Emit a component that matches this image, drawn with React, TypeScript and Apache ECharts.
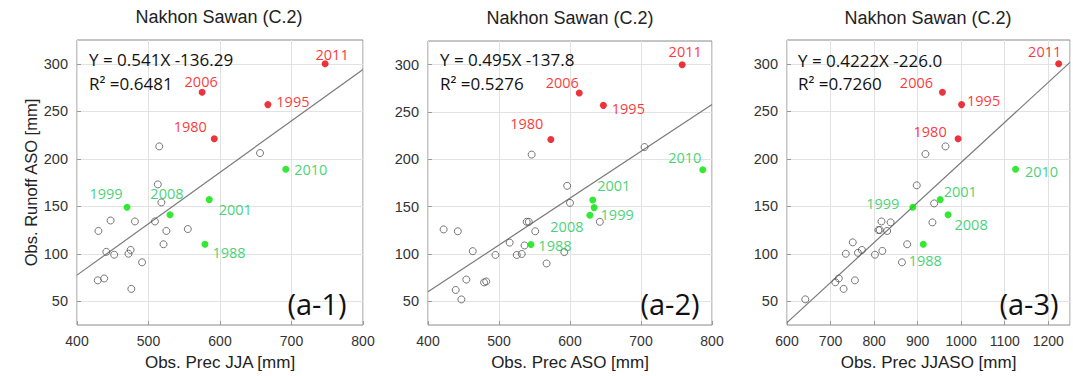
import React, { useEffect, useRef } from "react";
import * as echarts from "echarts";

// ---------- data ----------
const TITLE = "Nakhon Sawan (C.2)";
const Y_NAME = "Obs. Runoff ASO [mm]";
const X_NAMES = ["Obs. Prec JJA [mm]", "Obs. Prec ASO [mm]", "Obs. Prec JJASO [mm]"];
const EQUATIONS = ["Y = 0.541X -136.29", "Y = 0.495X -137.8", "Y = 0.4222X -226.0"];
const R2_TEXT = ["R² =0.6481", "R² =0.5276", "R² =0.7260"];
const PANEL_TAGS = ["(a-1)", "(a-2)", "(a-3)"];
const Y_TICKS = [50, 100, 150, 200, 250, 300];

const RED_YEARS = ["1980", "1995", "2006", "2011"];
const RED_RUNOFF = [221, 257, 270, 300];
const RED_JJA = [592, 667, 575, 747];
const RED_ASO = [573, 647, 613, 758];
const RED_JJASO = [993, 1001, 957, 1224];

const GREEN_YEARS = ["1988", "1999", "2001", "2008", "2010"];
const GREEN_RUNOFF = [110, 149, 157, 141, 189];
const GREEN_JJA = [579, 470, 585, 530, 692];
const GREEN_ASO = [545, 634, 632, 628, 787];
const GREEN_JJASO = [913, 889, 952, 970, 1125];

const HOLLOW_JJA = [515, 656, 513, 518, 447, 481, 509, 430, 525, 555, 521, 441, 452, 472, 475, 491, 429, 438, 476];
const HOLLOW_RUNOFF_1 = [213, 206, 173, 154, 135, 134, 134, 124, 124, 126, 110, 102, 99, 100, 104, 91, 72, 74, 63];

const HOLLOW_ASO = [546, 705, 596, 600, 422, 442, 642, 539, 542, 551, 515, 536, 463, 495, 525, 532, 592, 567, 454, 479, 482, 439, 447];
const HOLLOW_RUNOFF_2 = [205, 213, 172, 154, 126, 124, 134, 134, 134, 124, 112, 109, 103, 99, 99, 100, 102, 90, 73, 70, 71, 62, 52];

const HOLLOW_JJASO = [918, 964, 898, 938, 934, 817, 838, 810, 813, 830, 751, 735, 763, 772, 802, 819, 876, 864, 711, 719, 756, 730, 642];
const HOLLOW_RUNOFF_3 = [205, 213, 172, 153, 133, 134, 133, 125, 125, 124, 112, 100, 101, 104, 99, 103, 110, 91, 70, 74, 72, 63, 52];

// regression line ends as drawn: [x, y]
const FIT_1 = [[400, 77.5], [800, 294]];
const FIT_2 = [[400, 60], [800, 258]];
const FIT_3 = [[600, 27.5], [1250, 301.5]];

const X_RANGES = [[400, 800], [400, 800], [600, 1250]];

// ---------- styling / layout ----------
const FONT_AXIS = "'Liberation Sans', Arial, Helvetica, sans-serif";
const FONT_NOTE = "'Open Sans', 'Noto Sans', sans-serif";
const RED_LABEL = "#ff0000";
const RED_DOT = "#e8000a";
const GREEN_LABEL = "#12c850";
const GREEN_DOT = "#00e400";

const GRIDS = [
  { left: 77, top: 40, width: 286, height: 286 },
  { left: 428, top: 41, width: 284, height: 286 },
  { left: 787, top: 40, width: 283, height: 285 },
];
const TITLE_POS = [[219, 17], [570, 18], [928, 18]];
const EQ_POS = [[89, 59, 83], [440, 59, 83], [798, 60, 83]];
const TAG_POS = [[317, 303], [670, 303], [1029, 303]];

// label offsets (label centre minus point centre), keyed by year
const RED_OFFSETS = [
  { "1980": [-24, -12], "1995": [25, -3], "2006": [-1, -11], "2011": [7, -9] },
  { "1980": [-24, -16], "1995": [25, 3], "2006": [-17, -11], "2011": [3, -13] },
  { "1980": [-28, -7], "1995": [22, -4], "2006": [-26, -10], "2011": [-14, -12] },
];
const GREEN_OFFSETS = [
  { "1988": [24, 8], "1999": [-21, -14], "2001": [26, 10], "2008": [-3, -21], "2010": [25, 0] },
  { "1988": [24, 1], "1999": [23, 7], "2001": [21, -15], "2008": [-23, 11], "2010": [-18, -12] },
  { "1988": [2, 16], "1999": [-30, -4], "2001": [20, -8], "2008": [23, 10], "2010": [26, 2] },
];

function zip(xs: number[], ys: number[]) {
  return xs.map((x, i) => [x, ys[i]]);
}

function labeled(years: string[], xs: number[], ys: number[], offsets: Record<string, number[]>) {
  return years.map((yr, i) => ({
    name: yr,
    value: [xs[i], ys[i]],
    label: { offset: offsets[yr] },
  }));
}

export default function App() {
  const ref = useRef<HTMLDivElement>(null);

  useEffect(() => {
    if (!ref.current) return;
    const chart = echarts.init(ref.current, undefined, { renderer: "svg" });

    const hollowX = [HOLLOW_JJA, HOLLOW_ASO, HOLLOW_JJASO];
    const hollowY = [HOLLOW_RUNOFF_1, HOLLOW_RUNOFF_2, HOLLOW_RUNOFF_3];
    const redX = [RED_JJA, RED_ASO, RED_JJASO];
    const greenX = [GREEN_JJA, GREEN_ASO, GREEN_JJASO];
    const fits = [FIT_1, FIT_2, FIT_3];

    const series: any[] = [];
    for (let p = 0; p < 3; p++) {
      series.push({
        type: "line",
        xAxisIndex: p,
        yAxisIndex: p,
        data: fits[p],
        showSymbol: false,
        symbol: "none",
        silent: true,
        lineStyle: { color: "#7a7a7a", width: 1.2 },
        z: 2,
      });
      series.push({
        type: "scatter",
        xAxisIndex: p,
        yAxisIndex: p,
        data: zip(hollowX[p], hollowY[p]),
        symbol: "circle",
        symbolSize: 7,
        itemStyle: { color: "rgba(255,255,255,0)", borderColor: "#555", borderWidth: 1 },
        z: 3,
      });
      const labelBase = {
        show: true,
        position: "inside",
        formatter: "{b}",
        fontSize: 14.5,
        fontFamily: FONT_NOTE,
      };
      series.push({
        type: "scatter",
        xAxisIndex: p,
        yAxisIndex: p,
        data: labeled(RED_YEARS, redX[p], RED_RUNOFF, RED_OFFSETS[p]),
        symbol: "circle",
        symbolSize: 7,
        itemStyle: { color: RED_DOT },
        label: { ...labelBase, color: RED_LABEL },
        z: 4,
      });
      series.push({
        type: "scatter",
        xAxisIndex: p,
        yAxisIndex: p,
        data: labeled(GREEN_YEARS, greenX[p], GREEN_RUNOFF, GREEN_OFFSETS[p]),
        symbol: "circle",
        symbolSize: 7,
        itemStyle: { color: GREEN_DOT },
        label: { ...labelBase, color: GREEN_LABEL },
        z: 4,
      });
    }

    const xAxis = X_RANGES.map((r, p) => ({
      gridIndex: p,
      type: "value",
      min: r[0],
      max: r[1],
      interval: 100,
      name: X_NAMES[p],
      nameLocation: "middle",
      nameGap: 29,
      nameTextStyle: { fontSize: 17, color: "#222", fontFamily: FONT_AXIS },
      axisLine: { show: false },
      axisTick: { show: true, inside: true, length: 4, lineStyle: { color: "#999" } },
      axisLabel: {
        fontSize: 14,
        color: "#333",
        fontFamily: FONT_AXIS,
        margin: 9,
        showMaxLabel: p === 2 ? false : true,
        formatter: (v: number) => String(v),
      },
      splitLine: { show: true, lineStyle: { color: "#e2e2e2", width: 1 } },
    }));

    const yAxis = [0, 1, 2].map((p) => ({
      gridIndex: p,
      type: "value",
      min: 25,
      max: 325,
      name: p === 0 ? Y_NAME : "",
      nameLocation: "middle",
      nameGap: 28,
      nameTextStyle: { fontSize: 16.5, color: "#222", fontFamily: FONT_AXIS },
      axisLine: { show: false },
      axisTick: { show: true, inside: true, length: 4, customValues: Y_TICKS, lineStyle: { color: "#999" } },
      axisLabel: {
        fontSize: 14.5,
        color: "#333",
        fontFamily: FONT_AXIS,
        margin: 9,
        customValues: Y_TICKS,
        formatter: (v: number) => String(v),
      },
      splitLine: { show: true, lineStyle: { color: "#e2e2e2", width: 1 } },
    }));

    const graphic: any[] = [];
    for (let p = 0; p < 3; p++) {
      graphic.push({
        type: "text",
        x: TITLE_POS[p][0],
        y: TITLE_POS[p][1],
        silent: true,
        style: {
          text: TITLE,
          fontSize: 18,
          fontFamily: FONT_AXIS,
          fill: "#222",
          align: "center",
          verticalAlign: "middle",
        },
      });
      graphic.push({
        type: "text",
        x: EQ_POS[p][0],
        y: EQ_POS[p][1],
        silent: true,
        z: 10,
        style: {
          text: EQUATIONS[p],
          fontSize: 17,
          fontFamily: FONT_NOTE,
          fill: "#111",
          align: "left",
          verticalAlign: "middle",
        },
      });
      graphic.push({
        type: "text",
        x: EQ_POS[p][0],
        y: EQ_POS[p][2],
        silent: true,
        z: 10,
        style: {
          text: R2_TEXT[p],
          fontSize: 17,
          fontFamily: FONT_NOTE,
          fill: "#111",
          align: "left",
          verticalAlign: "middle",
        },
      });
      graphic.push({
        type: "text",
        x: TAG_POS[p][0],
        y: TAG_POS[p][1],
        silent: true,
        z: 10,
        style: {
          text: PANEL_TAGS[p],
          fontSize: 29,
          fontFamily: FONT_NOTE,
          fill: "#111",
          align: "center",
          verticalAlign: "middle",
        },
      });
    }

    chart.setOption({
      animation: false,
      backgroundColor: "#ffffff",
      grid: GRIDS.map((g) => ({
        ...g,
        show: true,
        borderColor: "#8a8a8a",
        borderWidth: 1,
        backgroundColor: "#ffffff",
        containLabel: false,
      })),
      xAxis,
      yAxis,
      series,
      graphic,
    });

    return () => chart.dispose();
  }, []);

  return (
    <div
      ref={ref}
      style={{ position: "fixed", left: 0, top: 0, width: 1073, height: 376, background: "#fff" }}
    />
  );
}
